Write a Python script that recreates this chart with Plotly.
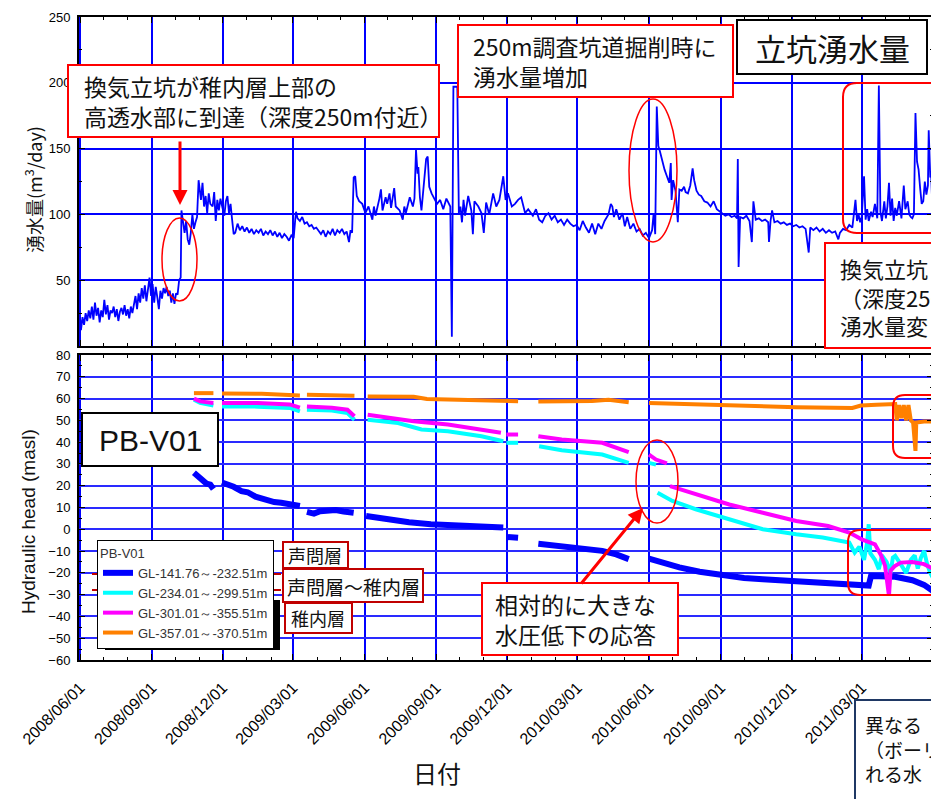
import plotly.graph_objects as go

# page is 939x799; the browser body has an 8px margin, so the figure is 931x791 at (8, 8)
OFF = 8
W, H = 939 - OFF, 799 - OFF


def px(x):
    return (x - OFF) / W


def py(y):
    return 1 - (y - OFF) / H


# ---------------- data: shaft inflow (m3/day) ----------------
inflow_date = [
    "2008-06-01", "2008-06-02", "2008-06-04", "2008-06-06", "2008-06-08", "2008-06-10", "2008-06-12", "2008-06-14",
    "2008-06-16", "2008-06-18", "2008-06-20", "2008-06-22", "2008-06-24", "2008-06-26", "2008-06-28", "2008-06-30",
    "2008-07-02", "2008-07-04", "2008-07-06", "2008-07-08", "2008-07-10", "2008-07-12", "2008-07-14", "2008-07-16",
    "2008-07-18", "2008-07-20", "2008-07-22", "2008-07-24", "2008-07-26", "2008-07-28", "2008-07-30",
    "2008-08-01", "2008-08-03", "2008-08-05", "2008-08-07", "2008-08-09", "2008-08-11", "2008-08-13", "2008-08-15",
    "2008-08-17", "2008-08-19", "2008-08-21", "2008-08-23", "2008-08-25", "2008-08-27", "2008-08-29", "2008-08-31",
    "2008-09-02", "2008-09-04", "2008-09-06", "2008-09-08", "2008-09-10", "2008-09-12", "2008-09-14", "2008-09-16",
    "2008-09-18", "2008-09-20", "2008-09-22", "2008-09-24", "2008-09-26", "2008-09-28", "2008-09-30",
    "2008-10-02", "2008-10-04", "2008-10-06", "2008-10-08", "2008-10-09", "2008-10-11", "2008-10-13", "2008-10-15",
    "2008-10-17", "2008-10-19", "2008-10-21", "2008-10-23", "2008-10-25", "2008-10-27", "2008-10-29", "2008-10-31",
    "2008-11-01", "2008-11-03", "2008-11-05", "2008-11-07", "2008-11-09", "2008-11-11", "2008-11-13", "2008-11-15",
    "2008-11-18", "2008-11-20", "2008-11-22", "2008-11-24", "2008-11-26", "2008-11-28",
    "2008-12-01", "2008-12-03", "2008-12-05", "2008-12-07", "2008-12-09", "2008-12-11", "2008-12-13", "2008-12-15",
    "2008-12-17", "2008-12-20", "2008-12-23", "2008-12-26", "2008-12-29",
    "2009-01-01", "2009-01-04", "2009-01-07", "2009-01-10", "2009-01-13", "2009-01-16", "2009-01-19", "2009-01-22",
    "2009-01-25", "2009-01-28", "2009-01-31", "2009-02-03", "2009-02-06", "2009-02-09", "2009-02-12", "2009-02-15",
    "2009-02-18", "2009-02-21", "2009-02-24", "2009-02-27", "2009-03-02", "2009-03-04", "2009-03-05", "2009-03-07",
    "2009-03-10", "2009-03-13", "2009-03-16", "2009-03-19", "2009-03-22", "2009-03-25", "2009-03-28", "2009-03-31",
    "2009-04-03", "2009-04-06", "2009-04-09", "2009-04-12", "2009-04-15", "2009-04-18", "2009-04-21", "2009-04-24",
    "2009-04-27", "2009-04-30", "2009-05-03", "2009-05-06", "2009-05-09", "2009-05-12", "2009-05-14", "2009-05-16",
    "2009-05-18", "2009-05-20", "2009-05-22", "2009-05-25", "2009-05-29", "2009-06-02", "2009-06-06", "2009-06-11",
    "2009-06-13", "2009-06-15", "2009-06-20", "2009-06-22", "2009-06-24", "2009-06-28", "2009-06-30", "2009-07-03",
    "2009-07-05", "2009-07-09", "2009-07-11", "2009-07-16", "2009-07-20", "2009-07-22", "2009-07-24", "2009-07-29",
    "2009-08-02", "2009-08-04", "2009-08-06", "2009-08-08", "2009-08-09", "2009-08-11", "2009-08-13", "2009-08-16",
    "2009-08-19", "2009-08-21", "2009-08-23", "2009-08-26", "2009-08-29", "2009-09-02", "2009-09-06", "2009-09-10",
    "2009-09-14", "2009-09-18", "2009-09-19", "2009-09-21", "2009-09-23", "2009-09-28", "2009-09-30",
    "2009-10-02", "2009-10-04", "2009-10-06", "2009-10-08", "2009-10-12", "2009-10-16", "2009-10-18", "2009-10-20",
    "2009-10-25", "2009-10-29", "2009-11-01", "2009-11-04", "2009-11-08", "2009-11-13", "2009-11-17", "2009-11-21",
    "2009-11-26", "2009-11-29", "2009-12-02", "2009-12-07", "2009-12-11", "2009-12-15", "2009-12-19", "2009-12-24",
    "2009-12-28",
    "2010-01-01", "2010-01-03", "2010-01-07", "2010-01-11", "2010-01-15", "2010-01-19", "2010-01-23", "2010-01-27",
    "2010-01-31", "2010-02-04", "2010-02-08", "2010-02-12", "2010-02-16", "2010-02-20", "2010-02-24", "2010-02-28",
    "2010-03-04", "2010-03-08", "2010-03-12", "2010-03-16", "2010-03-20", "2010-03-24", "2010-03-28", "2010-04-01",
    "2010-04-05", "2010-04-10", "2010-04-13", "2010-04-15", "2010-04-17", "2010-04-20", "2010-04-24", "2010-04-28",
    "2010-05-01", "2010-05-04", "2010-05-08", "2010-05-12", "2010-05-16", "2010-05-20", "2010-05-24", "2010-05-28",
    "2010-06-01", "2010-06-05", "2010-06-07", "2010-06-09", "2010-06-11", "2010-06-13", "2010-06-15", "2010-06-18",
    "2010-06-21", "2010-06-24", "2010-06-27", "2010-06-29", "2010-06-30", "2010-07-02", "2010-07-05", "2010-07-08",
    "2010-07-10", "2010-07-13", "2010-07-16", "2010-07-18", "2010-07-21", "2010-07-24", "2010-07-27", "2010-07-29",
    "2010-08-01", "2010-08-04", "2010-08-07", "2010-08-11", "2010-08-15", "2010-08-19", "2010-08-23", "2010-08-27",
    "2010-08-31", "2010-09-03", "2010-09-07", "2010-09-11", "2010-09-15", "2010-09-19", "2010-09-22", "2010-09-23",
    "2010-09-24", "2010-09-26", "2010-09-30", "2010-10-04", "2010-10-08", "2010-10-11", "2010-10-13", "2010-10-16",
    "2010-10-20", "2010-10-24", "2010-10-28", "2010-11-01", "2010-11-02", "2010-11-04", "2010-11-06", "2010-11-09",
    "2010-11-13", "2010-11-17", "2010-11-21", "2010-11-25", "2010-11-29", "2010-12-03", "2010-12-07", "2010-12-11",
    "2010-12-15", "2010-12-19", "2010-12-23", "2010-12-25", "2010-12-29",
    "2011-01-02", "2011-01-06", "2011-01-10", "2011-01-14", "2011-01-18", "2011-01-22", "2011-01-26", "2011-01-30",
    "2011-02-01", "2011-02-05", "2011-02-09", "2011-02-13", "2011-02-17", "2011-02-21", "2011-02-23", "2011-02-25",
    "2011-02-27", "2011-03-01", "2011-03-04", "2011-03-06", "2011-03-08", "2011-03-10", "2011-03-13", "2011-03-15",
    "2011-03-18", "2011-03-21", "2011-03-23", "2011-03-25", "2011-03-27", "2011-03-30", "2011-04-01", "2011-04-03",
    "2011-04-05", "2011-04-07", "2011-04-09", "2011-04-11", "2011-04-13", "2011-04-15", "2011-04-18", "2011-04-21",
    "2011-04-24", "2011-04-26", "2011-04-29", "2011-05-01", "2011-05-03", "2011-05-05", "2011-05-07", "2011-05-09",
    "2011-05-11", "2011-05-13", "2011-05-15", "2011-05-17", "2011-05-19", "2011-05-21", "2011-05-23", "2011-05-25",
    "2011-05-26", "2011-05-28", "2011-05-29", "2011-05-31",
]
inflow_m3day = [
    20, 12, 22, 16, 25, 19, 27, 21,
    30, 20, 33, 23, 29, 18, 27, 22,
    35, 24, 31, 20, 27, 25, 30, 22,
    28, 19, 26, 29, 24, 31, 23,
    28, 21, 30, 25, 33, 38, 28, 40,
    33, 44, 36, 46, 34, 42, 52, 38,
    47, 33, 45, 37, 28, 42, 36, 44,
    40, 45, 38, 42, 33, 40, 32,
    40, 39, 50, 52, 103, 96, 86, 95,
    81, 77, 86, 100, 89, 94, 98, 126,
    122, 111, 124, 106, 114, 101, 116, 108,
    106, 117, 95, 111, 103, 112,
    104, 99, 110, 114, 101, 108, 96, 85,
    86, 93, 88, 91, 87,
    90, 86, 89, 85, 88, 86, 89, 84,
    87, 85, 88, 84, 87, 83, 86, 82,
    85, 83, 80, 84, 82, 96, 102, 97,
    95, 98, 93, 94, 91, 92, 89, 90,
    87, 85, 88, 83, 87, 85, 89, 84,
    88, 86, 89, 85, 87, 79, 88, 86,
    128, 129, 114, 110, 108, 101, 106, 96,
    106, 99, 112, 119, 103, 113, 108, 116,
    105, 120, 106, 103, 96, 106, 101, 113,
    106, 112, 149, 131, 136, 113, 103, 120,
    142, 144, 121, 116, 113, 108, 111, 104,
    112, 107, 106, 7, 197, 197, 101,
    106, 94, 111, 99, 114, 103, 85, 110,
    106, 101, 86, 109, 100, 116, 106, 111,
    129, 111, 116, 106, 108, 111, 113, 101,
    104,
    101, 99, 104, 96, 94, 99, 101, 96,
    99, 94, 96, 92, 96, 93, 91, 92,
    88, 95, 90, 86, 93, 85, 93, 89,
    95, 100, 108, 106, 98, 104, 96, 101,
    91, 98, 89, 93, 87, 89, 84, 86,
    82, 88, 101, 85, 182, 152, 148, 140,
    134, 129, 124, 139, 111, 126, 118, 94,
    119, 118, 121, 117, 116, 122, 135, 126,
    118, 115, 114, 110, 109, 106, 110, 104,
    102, 101, 99, 100, 98, 99, 97, 142,
    60, 98, 97, 99, 95, 79, 110, 96,
    97, 95, 96, 94, 79, 95, 103, 94,
    95, 93, 94, 92, 93, 91, 92, 90,
    91, 89, 71, 90, 88,
    90, 87, 89, 86, 88, 86, 87, 81,
    86, 89, 88, 92, 90, 111, 95, 100,
    94, 98, 129, 96, 104, 95, 102, 98,
    108, 97, 198, 102, 95, 110, 97, 106,
    124, 99, 112, 95, 105, 99, 110, 97,
    122, 104, 110, 100, 98, 97, 100, 177,
    140, 134, 120, 108, 110, 125, 115, 122,
    164, 128, 132, 101,
]

# ---------------- data: hydraulic heads (masl), None = no data ----------------
head1_date = [
    "2008-10-25", "2008-10-30", "2008-11-05", "2008-11-10", "2008-11-15", "2008-11-19", "2008-11-25",
    "2008-11-30", "2008-12-08", "2008-12-15", "2008-12-25", "2009-01-02", "2009-01-12", "2009-01-24",
    "2009-02-05", "2009-02-14", "2009-02-25", "2009-03-10", "2009-03-15", "2009-03-19", "2009-03-28",
    "2009-04-05", "2009-04-15", "2009-04-25", "2009-05-05", "2009-05-18", "2009-05-26", "2009-06-03",
    "2009-06-20", "2009-07-13", "2009-07-28", "2009-08-25", "2009-09-20", "2009-10-29", "2009-11-26",
    "2009-11-28", "2009-11-30", "2009-12-15", "2009-12-28", "2010-01-10", "2010-02-09", "2010-03-05",
    "2010-04-02", "2010-04-20", "2010-05-06", "2010-05-20", "2010-06-01", "2010-06-20", "2010-07-10",
    "2010-08-05", "2010-09-03", "2010-10-01", "2010-10-25", "2010-12-07", "2011-01-15", "2011-02-17",
    "2011-03-10", "2011-03-13", "2011-04-13", "2011-05-05", "2011-05-20", "2011-05-31",
]
head1 = [
    26, 24.5, 23, 21, 20.5, 18.5, None,
    21.5, 20.5, 19.5, 17.5, 17, 15, 13.7,
    12.5, 12.2, 11.5, 10.7, None, 8, 7.2,
    8.3, 8.5, 8.8, 8.2, 7.6, None, 6.1,
    5, 3.8, 3.2, 2.3, 1.8, 1.5, 0.8,
    None, -3.5, -3.9, None, -6.6, -7.8, -8.8,
    -9.9, -11.5, -13.7, None, -13.5, -15.5, -17.5,
    -19.5, -21.2, -22.4, -22.9, -23.8, -24.8, -25.8,
    -25.8, -21.4, -21.8, -23.4, -25.5, -28.2,
]

head2_date = [
    "2008-10-25", "2008-11-02", "2008-11-19", "2008-11-25", "2008-11-30", "2009-01-15", "2009-02-25",
    "2009-03-10", "2009-03-15", "2009-03-19", "2009-04-20", "2009-05-10", "2009-05-19", "2009-05-26",
    "2009-06-05", "2009-07-14", "2009-08-13", "2009-09-16", "2009-10-29", "2009-11-26", "2009-11-28",
    "2009-11-30", "2009-12-15", "2009-12-28", "2010-01-11", "2010-02-09", "2010-04-02", "2010-05-06",
    "2010-05-20", "2010-06-01", "2010-06-10", "2010-06-11", "2010-06-12", "2010-07-01", "2010-07-31",
    "2010-09-12", "2010-10-25", "2010-12-07", "2011-01-10", "2011-02-13", "2011-02-20", "2011-02-26",
    "2011-03-04", "2011-03-08", "2011-03-10", "2011-03-12", "2011-03-18", "2011-03-23", "2011-03-27",
    "2011-04-02", "2011-04-07", "2011-04-10", "2011-04-13", "2011-04-20", "2011-04-27", "2011-05-03",
    "2011-05-08", "2011-05-12", "2011-05-16", "2011-05-20", "2011-05-24", "2011-05-28", "2011-05-31",
]
head2 = [
    59.5, 58, 56.8, None, 56.4, 56.3, 55.7,
    54.1, None, 54.9, 54.5, 53.4, 50.3, None,
    50.3, 48.8, 45.8, 45.0, 42.7, 40.4, None,
    39.7, 39.7, None, 38.1, 36.3, 34.3, 30.5,
    None, 30.5, 29.7, None, 16.8, 13, 9.2,
    4.6, 0, -2.3, -3.8, -6.1, -10.7, -8,
    -14, -6, 2.3, -11, -14, -18.3, -12,
    -15, -20, -13, -12.2, -16, -20, -14,
    -12, -18, -13, -9.9, -16, -20, -22,
]

head3_date = [
    "2008-10-25", "2008-11-02", "2008-11-19", "2008-11-25", "2008-11-30", "2009-01-15", "2009-02-25",
    "2009-03-10", "2009-03-15", "2009-03-19", "2009-04-20", "2009-05-10", "2009-05-19", "2009-05-26",
    "2009-06-05", "2009-07-05", "2009-08-03", "2009-09-16", "2009-10-29", "2009-11-23", "2009-11-27",
    "2009-11-30", "2009-12-15", "2009-12-28", "2010-01-10", "2010-02-09", "2010-04-02", "2010-04-24",
    "2010-05-06", "2010-05-20", "2010-06-01", "2010-06-10", "2010-06-24", "2010-06-26", "2010-06-28",
    "2010-07-31", "2010-09-12", "2010-10-25", "2010-12-07", "2011-01-17", "2011-02-13", "2011-03-01",
    "2011-03-18", "2011-03-26", "2011-03-31", "2011-04-05", "2011-04-07", "2011-04-12", "2011-04-20",
    "2011-05-05", "2011-05-20", "2011-05-31",
]
head3 = [
    60, 58.7, 58, None, 58, 58, 57.3,
    55.8, None, 56.4, 55.8, 54.9, 51.9, None,
    52.6, 51, 49.6, 48.1, 45.8, 44.3, None,
    43.5, 43.5, None, 42.7, 41.2, 39.7, 36.6,
    35.4, None, 34.3, 32, 30.2, None, 19.8,
    16, 11.4, 7.6, 3.8, 1.5, -1.5, -4.6,
    -6.9, -12, -16.8, -30.5, -19, -17, -15.3,
    -15, -16, -18,
]

head4_date = [
    "2008-10-25", "2008-11-19", "2008-11-25", "2008-11-30", "2009-01-20", "2009-03-10", "2009-03-15",
    "2009-03-19", "2009-05-19", "2009-05-26", "2009-06-05", "2009-08-03", "2009-08-20", "2009-10-29",
    "2009-12-15", "2009-12-28", "2010-01-10", "2010-03-20", "2010-04-10", "2010-05-06", "2010-05-20",
    "2010-06-01", "2010-09-01", "2010-12-07", "2011-02-17", "2011-02-28", "2011-03-20", "2011-04-08",
    "2011-04-13", "2011-04-15", "2011-04-18", "2011-04-21", "2011-04-24", "2011-04-27", "2011-04-30",
    "2011-05-03", "2011-05-06", "2011-05-09", "2011-05-10", "2011-05-20", "2011-05-31",
]
head4 = [
    62.5, 62.5, None, 62.3, 62.2, 61.4, None,
    61.8, 61.3, None, 61, 60.8, 59.8, 59.2,
    58.8, None, 58.7, 58.9, 59.5, 58.3, None,
    58, 57, 56, 55.7, 56.8, 57.2, 57.5,
    57.5, 50, 57, 51, 57, 50, 57,
    50, 49, 36, 49, 49.5, 49.5,
]

series_names = ["GL-141.76～-232.51m", "GL-234.01～-299.51m", "GL-301.01～-355.51m", "GL-357.01～-370.51m"]
series_colors = ["#0000ff", "#00ffff", "#ff00ff", "#ff8000"]
series_widths = [6, 4, 4, 4]

x_range = ["2008-05-30 12:00", "2011-05-31 12:00"]

JP = "Noto Sans CJK JP, sans-serif"
EN = "Liberation Sans, Arial, sans-serif"

fig = go.Figure()
fig.add_trace(go.Scatter(x=inflow_date, y=inflow_m3day, mode="lines",
                         line=dict(color="#0000ff", width=1.8), xaxis="x", yaxis="y",
                         showlegend=False))
for d, v, n, c, w in zip([head1_date, head2_date, head3_date, head4_date],
                         [head1, head2, head3, head4], series_names, series_colors, series_widths):
    fig.add_trace(go.Scatter(x=d, y=v, mode="lines", name=n, connectgaps=False,
                             line=dict(color=c, width=w), xaxis="x2", yaxis="y2"))

xcommon = dict(range=x_range, type="date", dtick="M3", tick0="2008-06-01",
               showgrid=True, gridcolor="#0000ff", gridwidth=2,
               showline=True, linecolor="black", linewidth=2, mirror="ticks",
               ticks="inside", ticklen=6, tickcolor="black", automargin=False,
               minor=dict(dtick="M1", ticks="inside", ticklen=3, tickcolor="black", showgrid=False),
               domain=[px(79), px(933)], zeroline=False)

ycommon = dict(showline=True, linecolor="black", linewidth=2, mirror="ticks",
               ticks="inside", ticklen=6, tickcolor="black", zeroline=False, automargin=False,
               tickfont=dict(family=EN, size=13, color="black"), ticklabelstandoff=4)

fig.update_layout(
    width=W, height=H, margin=dict(l=0, r=0, t=0, b=0, autoexpand=False),
    paper_bgcolor="white", plot_bgcolor="white",
    xaxis=dict(**xcommon, anchor="y", showticklabels=False),
    xaxis2=dict(**xcommon, anchor="y2", tickformat="%Y/%m/%d", tickangle=-45,
                tickfont=dict(family=EN, size=16, color="black"), ticklabelstandoff=10),
    yaxis=dict(**ycommon, domain=[py(346), py(17)], range=[0, 250],
               tickvals=[50, 100, 150, 200, 250],
               showgrid=True, gridcolor="#0000ff", gridwidth=2,
               minor=dict(dtick=25, tick0=0, ticks="inside", ticklen=3, tickcolor="black")),
    yaxis2=dict(**ycommon, domain=[py(660), py(355)], range=[-60, 80], dtick=10, tick0=0,
                showgrid=True, gridcolor="#2a2aff", gridwidth=1.5,
                minor=dict(dtick=5, ticks="inside", ticklen=3, tickcolor="black")),
    legend=dict(x=px(97), y=py(540), xanchor="left", yanchor="top",
                bgcolor="white", bordercolor="black", borderwidth=1,
                font=dict(family=EN, size=13, color="#333333"),
                title=dict(text="PB-V01", font=dict(family=EN, size=13, color="#333333")),
                tracegroupgap=0, itemwidth=30),
    showlegend=True,
)

shapes = []
annotations = []


def rect(x0, y0, x1, y1, color, width=2, fill="white"):
    shapes.append(dict(type="rect", xref="paper", yref="paper", x0=px(x0), x1=px(x1),
                       y0=py(y1), y1=py(y0), line=dict(color=color, width=width),
                       fillcolor=fill, layer="above"))


def ellipse(x0, y0, x1, y1, color="#ff0000", width=1.5):
    shapes.append(dict(type="circle", xref="paper", yref="paper", x0=px(x0), x1=px(x1),
                       y0=py(y1), y1=py(y0), line=dict(color=color, width=width), layer="above"))


def rrect(x0, y0, x1, y1, r, color="#ff0000", width=2):
    def p(x, y):
        return f"{px(x):.5f},{py(y):.5f}"
    path = (f"M {p(x0 + r, y0)} L {p(x1 - r, y0)} Q {p(x1, y0)} {p(x1, y0 + r)} "
            f"L {p(x1, y1 - r)} Q {p(x1, y1)} {p(x1 - r, y1)} L {p(x0 + r, y1)} "
            f"Q {p(x0, y1)} {p(x0, y1 - r)} L {p(x0, y0 + r)} Q {p(x0, y0)} {p(x0 + r, y0)} Z")
    shapes.append(dict(type="path", xref="paper", yref="paper", path=path,
                       line=dict(color=color, width=width), layer="above"))


def text(x, y, t, size, family=JP, xanchor="left", color="#111111", angle=0):
    annotations.append(dict(xref="paper", yref="paper", x=px(x), y=py(y), text=t,
                            showarrow=False, xanchor=xanchor, yanchor="middle", align="left",
                            textangle=angle, font=dict(family=family, size=size, color=color)))


def arrow(x_tail, y_tail, x_head, y_head, color="#ff0000"):
    annotations.append(dict(xref="paper", yref="paper", x=px(x_head), y=py(y_head), text="",
                            showarrow=True, ax=x_tail - x_head, ay=y_tail - y_head,
                            axref="pixel", ayref="pixel", arrowhead=2, arrowsize=1,
                            arrowwidth=3, arrowcolor=color))


# legend shadow
shapes.append(dict(type="rect", xref="paper", yref="paper", x0=px(105), x1=px(280),
                   y0=py(650), y1=py(600), fillcolor="black", line=dict(width=0), layer="above"))

# --- top panel annotations ---
rect(68, 65, 439, 137, "#ff0000")
text(82, 101, "換気立坑が稚内層上部の<br>高透水部に到達（深度250m付近）", 23)
arrow(180, 140, 180, 205)
ellipse(162, 218, 197, 301)

rect(458, 25, 733, 97, "#ff0000")
text(471, 61, "250m調査坑道掘削時に<br>湧水量増加", 23)
ellipse(629, 99, 677, 242)

rect(737, 20, 927, 74, "black")
text(832, 48, "立坑湧水量", 31, xanchor="center")

rrect(843, 83, 946, 233, 14)

rect(825, 243, 950, 348, "#ff0000")
text(838, 296, "換気立坑<br>（深度250<br>湧水量変", 22)

# --- bottom panel annotations ---
rect(82, 413, 218, 466, "black")
text(150, 440, "PB-V01", 30, family=EN, xanchor="center")

for y in (574, 590):
    shapes.append(dict(type="line", xref="paper", yref="paper", x0=px(92), x1=px(283),
                       y0=py(y), y1=py(y), line=dict(color="#c00000", width=2, dash="dashdot"),
                       layer="above"))

rect(283, 542, 348, 568, "#c00000")
text(315, 555, "声問層", 18, xanchor="center")
rect(283, 569, 423, 602, "#c00000")
text(353, 586, "声問層～稚内層", 19, xanchor="center")
rect(285, 603, 352, 633, "#c00000")
text(318, 618, "稚内層", 18, xanchor="center")

rect(482, 583, 678, 655, "#ff0000")
text(493, 619, "相対的に大きな<br>水圧低下の応答", 23)
arrow(580, 585, 643, 508)
ellipse(636, 440, 678, 523)

rrect(893, 395, 950, 458, 12)
rrect(848, 530, 950, 595, 12)

rect(855, 700, 960, 810, "#1f3864")
text(863, 749, "異なる<br>（ボーリ<br>れる水", 19)

# axis titles
text(33, 190, "湧水量(m<sup>3</sup>/day)", 18, xanchor="center", angle=-90)
text(28, 522, "Hydraulic head (masl)", 19, family=EN, xanchor="center", angle=-90)
text(437, 772, "日付", 24, xanchor="center")

fig.update_layout(shapes=shapes, annotations=annotations)
fig.write_html("out.html")
